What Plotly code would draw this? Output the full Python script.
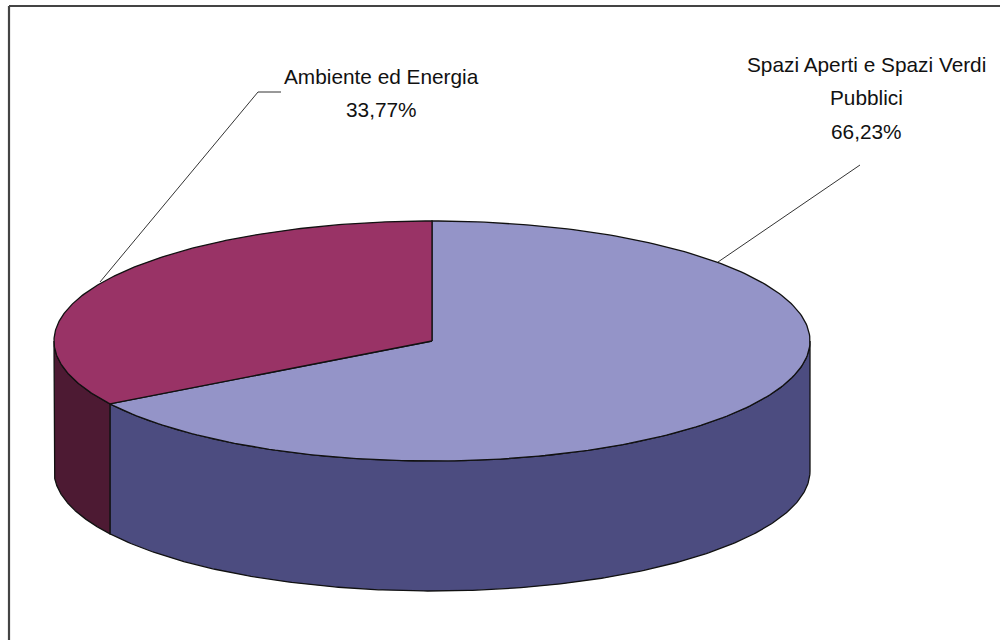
import numpy as np
import plotly.graph_objects as go

categories = [["Spazi Aperti e Spazi Verdi", "Pubblici"], ["Ambiente ed Energia"]]
shares = [66.23, 33.77]
share_labels = ["66,23%", "33,77%"]
top_colors = ["#9494C8", "#993366"]
side_colors = ["#4C4C80", "#4D1A33"]

CX, CY, RX, RY, DEPTH = 432, 341, 378, 120, 130
OUTLINE = "#111111"


def rim(a0, a1, n=240):
    t = np.radians(np.linspace(a0, a1, n))
    return CX + RX * np.sin(t), CY - RY * np.cos(t)


fig = go.Figure()
edges = np.concatenate([[0], np.cumsum(shares)]) / sum(shares) * 360

# side walls: only the front half of the rim (90..270 deg clockwise from top)
for a0, a1, col in zip(edges[:-1], edges[1:], side_colors):
    lo, hi = max(a0, 90), min(a1, 270)
    if lo >= hi:
        continue
    x, y = rim(lo, hi)
    px = np.concatenate([x, x[::-1], x[:1]])
    py = np.concatenate([y, y[::-1] + DEPTH, y[:1]])
    fig.add_trace(go.Scatter(x=px, y=py, mode="lines", fill="toself", fillcolor=col,
                             line=dict(color=OUTLINE, width=1.3), hoverinfo="skip"))

# top faces
for a0, a1, col in zip(edges[:-1], edges[1:], top_colors):
    x, y = rim(a0, a1)
    px = np.concatenate([[CX], x, [CX]])
    py = np.concatenate([[CY], y, [CY]])
    fig.add_trace(go.Scatter(x=px, y=py, mode="lines", fill="toself", fillcolor=col,
                             line=dict(color=OUTLINE, width=1.3), hoverinfo="skip"))

LEADER = "#333333"
shapes = [
    dict(type="line", x0=9, y0=6, x1=9, y1=640, line=dict(color="#444444", width=2.2)),
    dict(type="line", x0=9, y0=6, x1=1000, y1=6, line=dict(color="#444444", width=2.2)),
    dict(type="line", x0=281, y0=92, x1=258, y1=92, line=dict(color=LEADER, width=1)),
    dict(type="line", x0=258, y0=92, x1=100, y1=282, line=dict(color=LEADER, width=1)),
    dict(type="line", x0=860, y0=165, x1=718, y1=262, line=dict(color=LEADER, width=1)),
]

# each text line is placed on its own so that the reference's line spacing is kept
annotations = []
for lines, pct, lx, ly in zip(categories, share_labels, [866, 381], [64, 76]):
    for i, line in enumerate(lines + [pct]):
        annotations.append(dict(
            x=lx, y=ly + i * 33.5, text=line, xref="x", yref="y", showarrow=False,
            xanchor="center", yanchor="middle",
            font=dict(family="Liberation Sans", size=20.8, color="#111111")))

fig.update_layout(
    width=1000, height=640, autosize=False,
    margin=dict(l=0, r=0, t=0, b=0),
    paper_bgcolor="white", plot_bgcolor="white", showlegend=False,
    xaxis=dict(range=[0, 1000], visible=False, fixedrange=True),
    yaxis=dict(range=[640, 0], visible=False, fixedrange=True),
    shapes=shapes, annotations=annotations,
)
fig.write_html("out.html", config=dict(displayModeBar=False),
               post_script="document.body.style.margin='0';document.body.style.overflow='hidden';")
